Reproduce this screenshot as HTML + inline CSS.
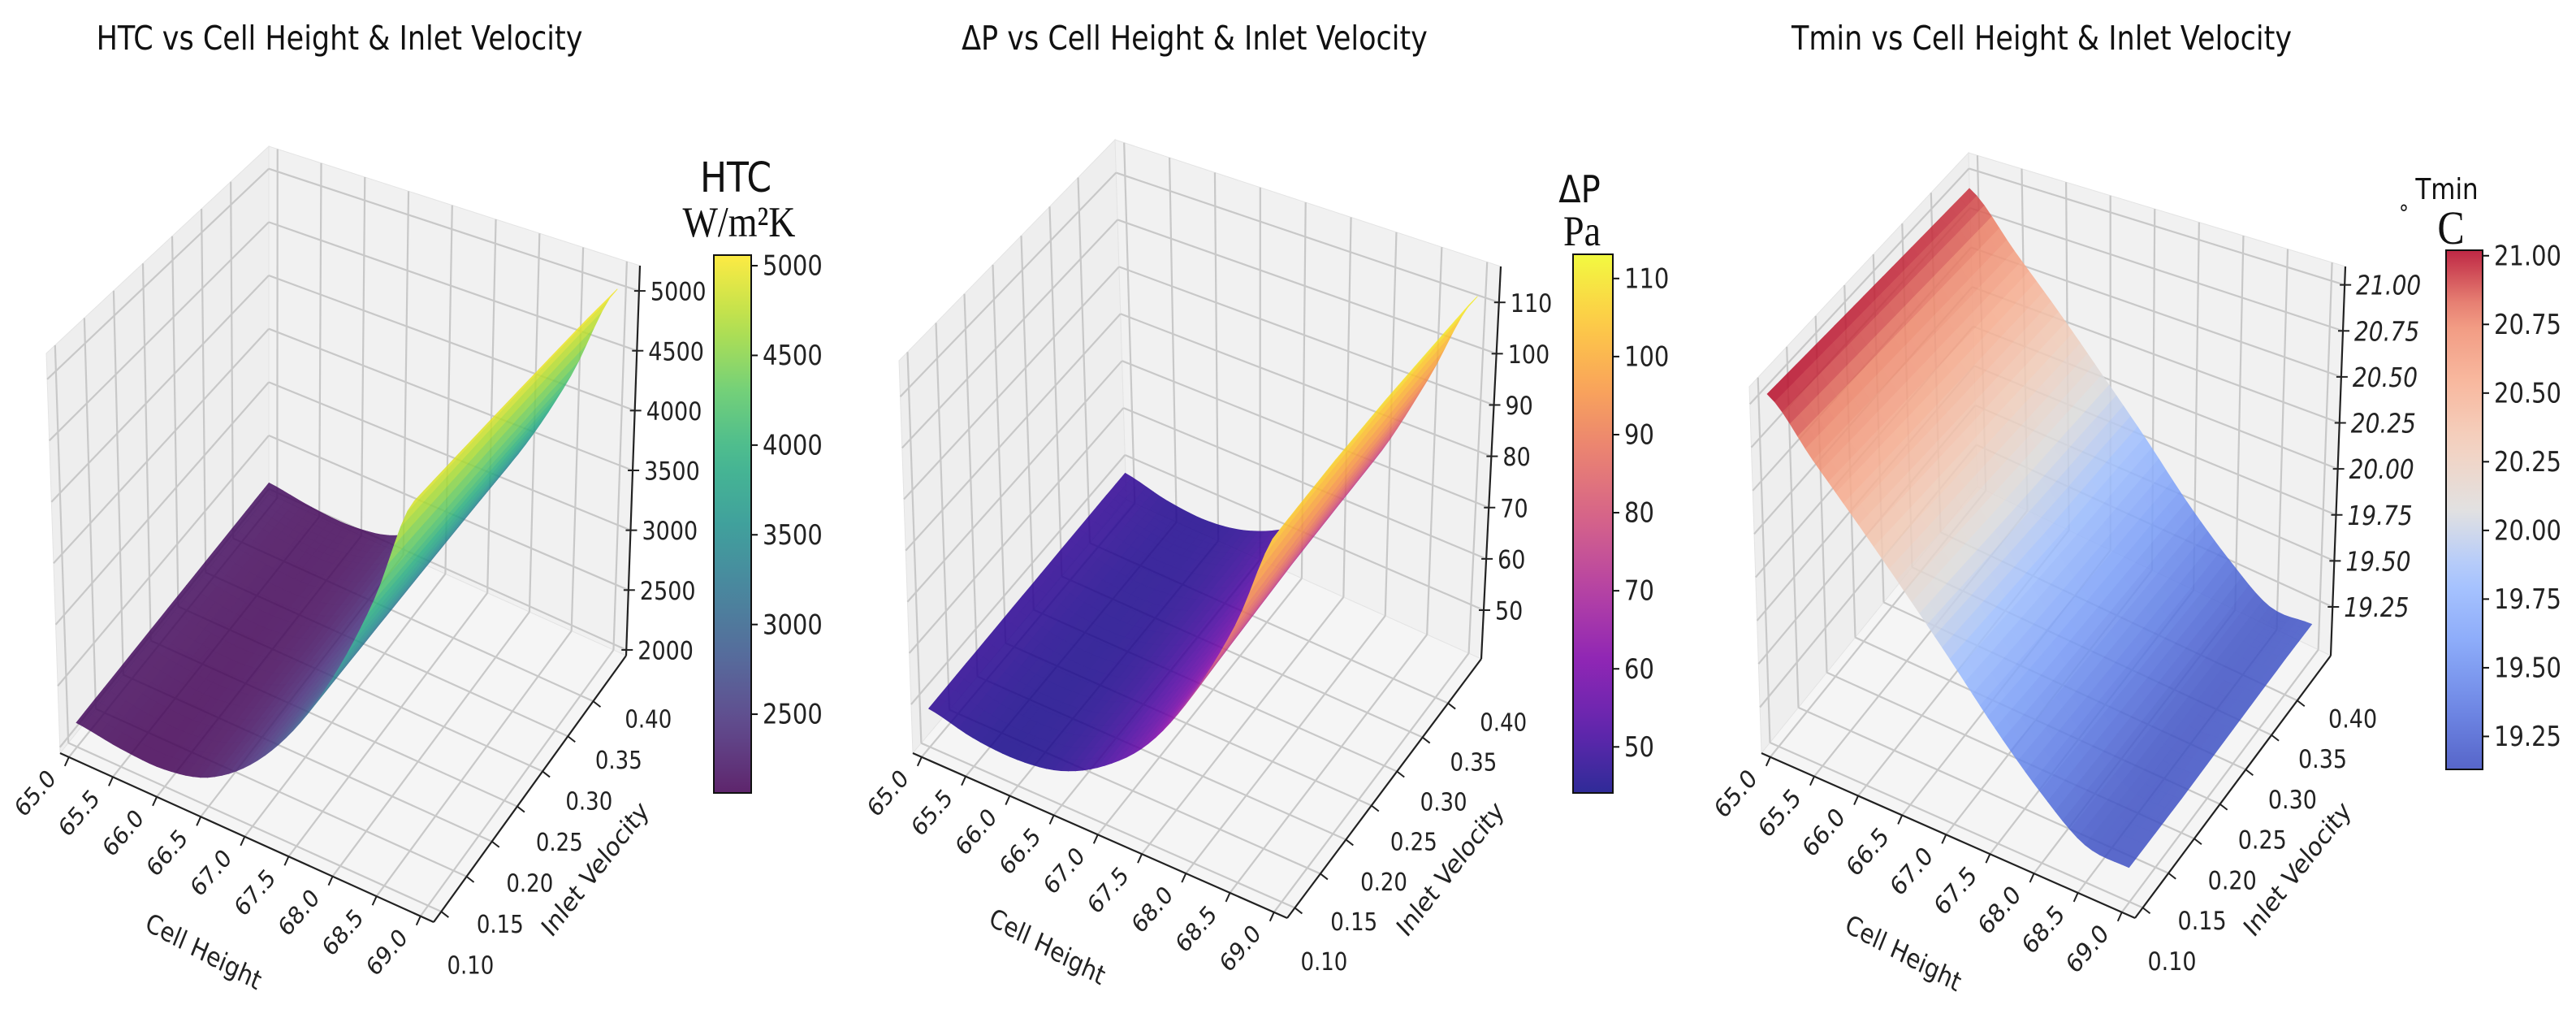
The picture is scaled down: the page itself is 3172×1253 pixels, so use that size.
<!DOCTYPE html>
<html><head><meta charset="utf-8">
<style>
html,body{margin:0;padding:0;background:#fff;}
svg{display:block;font-family:"DejaVu Sans","Liberation Sans",sans-serif;}
</style></head>
<body>
<svg id="chart" width="3172" height="1253" viewBox="0 0 3172 1253" xmlns="http://www.w3.org/2000/svg">
<rect x="0" y="0" width="3172" height="1253" fill="#fff"/>
</svg>
<script>
// ---- data ----
const cellHeights = [65.0, 65.5, 66.0, 66.5, 67.0, 67.5, 68.0, 68.5, 69.0];
const velocities = [0.10, 0.20, 0.30, 0.40, 0.45];
// rows = velocities, columns = cellHeights
const htcGrid = [
  [2150, 2100, 2090, 2180, 2430, 2830, 3380, 4080, 4920],
  [2160, 2110, 2100, 2190, 2450, 2850, 3410, 4120, 4960],
  [2170, 2120, 2110, 2200, 2460, 2870, 3440, 4160, 5000],
  [2180, 2130, 2120, 2210, 2480, 2890, 3470, 4190, 5040],
  [2185, 2135, 2125, 2215, 2485, 2900, 3480, 4200, 5050]
];
const dpGrid = [
  [48.0, 46.0, 45.5, 47.0, 51.5, 59.0, 71.0, 87.0, 107.0],
  [48.3, 46.3, 45.8, 47.4, 52.0, 60.0, 72.5, 89.0, 109.0],
  [48.6, 46.6, 46.1, 47.8, 52.5, 61.0, 74.0, 91.0, 110.5],
  [48.9, 46.9, 46.4, 48.2, 53.0, 62.0, 75.0, 92.5, 111.5],
  [49.0, 47.0, 46.5, 48.4, 53.2, 62.4, 75.5, 93.0, 112.0]
];
const tminGrid = [
  [21.02, 20.72, 20.44, 20.16, 19.88, 19.60, 19.36, 19.18, 19.16],
  [21.00, 20.70, 20.42, 20.14, 19.86, 19.58, 19.35, 19.17, 19.16],
  [20.98, 20.68, 20.40, 20.12, 19.84, 19.57, 19.34, 19.17, 19.17],
  [20.96, 20.66, 20.38, 20.10, 19.83, 19.56, 19.33, 19.17, 19.18],
  [20.95, 20.65, 20.37, 20.09, 19.82, 19.55, 19.33, 19.17, 19.18]
];
const xTicks = [65.0, 65.5, 66.0, 66.5, 67.0, 67.5, 68.0, 68.5, 69.0];
const xTickLabels = ["65.0","65.5","66.0","66.5","67.0","67.5","68.0","68.5","69.0"];
const yTicks = [0.10, 0.15, 0.20, 0.25, 0.30, 0.35, 0.40];
const yTickLabels = ["0.10","0.15","0.20","0.25","0.30","0.35","0.40"];
const htcTicks = [2000, 2500, 3000, 3500, 4000, 4500, 5000];
const dpTicks = [50, 60, 70, 80, 90, 100, 110];
const tminTicks = [19.25, 19.50, 19.75, 20.00, 20.25, 20.50, 20.75, 21.00];
const tminTickLabels = ["19.25","19.50","19.75","20.00","20.25","20.50","20.75","21.00"];
const htcCbarTicks = [2500, 3000, 3500, 4000, 4500, 5000];
const dpCbarTicks = [50, 60, 70, 80, 90, 100, 110];
const tminCbarTicks = [19.25, 19.50, 19.75, 20.00, 20.25, 20.50, 20.75, 21.00];

// ---- colormaps ----
const viridis = ["#440154","#472d7b","#3b528b","#2c728e","#21918c","#28ae80","#5ec962","#addc30","#fde725"];
const plasma = ["#0d0887","#4c02a1","#7e03a8","#a92395","#cc4778","#e56b5d","#f89540","#fdc328","#f0f921"];
const coolwarm = ["#3b4cc0","#5977e3","#7b9ff9","#9ebeff","#dddcdc","#f2cbb7","#f7ac8e","#ee8468","#b40426"];
function hex(h){return [parseInt(h.substr(1,2),16),parseInt(h.substr(3,2),16),parseInt(h.substr(5,2),16)];}
function cmap(stops,t){
  t=Math.max(0,Math.min(1,t));
  const n=stops.length-1, f=t*n, i=Math.min(n-1,Math.floor(f)), r=f-i;
  const a=hex(stops[i]), b=hex(stops[i+1]);
  return "rgb("+a.map((c,k)=>Math.round(c+(b[k]-c)*r)).join(",")+")";
}

const NS="http://www.w3.org/2000/svg";
const svg=document.getElementById("chart");
function el(tag,attrs,parent){const e=document.createElementNS(NS,tag);for(const k in attrs)e.setAttribute(k,attrs[k]);(parent||svg).appendChild(e);return e;}
const SY=1.16;
function txt(parent,x,y,str,opts){
  const o=opts||{};
  const e=el("text",{x:0,y:0,"text-anchor":o.anchor||"start","dominant-baseline":o.baseline||"auto","font-size":o.size||26,fill:o.fill||"#222",
    transform:"translate("+x.toFixed(1)+" "+y.toFixed(1)+") scale(1 "+SY+") rotate("+(o.rot||0)+")"},parent);
  if(o.family)e.setAttribute("font-family",o.family);
  if(o.italic)e.setAttribute("font-style","oblique");
  e.textContent=str;
  return e;
}

// box corners: b = bottom [left(x0,y0), back(x0,y1), right(x1,y1), front(x1,y0)], t = top same order
const panels=[
  {key:"htc",title:"HTC vs Cell Height & Inlet Velocity",titleX:418,grid:htcGrid,cmap:viridis,
   b:[[74,927],[331,608],[771,807],[534,1135]], t:[[57,435],[331,180],[788,327],[514,583]],
   xd:[64.9,69.15],yd:[0.085,0.465],zd:[1952,5211],
   zTicks:htcTicks,zLabels:htcTicks.map(String),italic:false,fs:26,
   cb:{x:879,y:314,w:46,h:662,min:2061,max:5059,ticks:htcCbarTicks,labels:htcCbarTicks.map(String)},
   cellLab:[250,1173],velLab:[734,1071]},
  {key:"dp",title:"ΔP vs Cell Height & Inlet Velocity",titleX:1471,grid:dpGrid,cmap:plasma,
   b:[[1124,927],[1387,615],[1824,811],[1585,1130]], t:[[1107,444],[1373,172],[1848,328],[1582,599]],
   xd:[64.9,69.15],yd:[0.085,0.465],zd:[40.5,117.0],
   zTicks:dpTicks,zLabels:dpTicks.map(String),italic:false,fs:26,
   cb:{x:1937,y:313,w:49,h:663,min:44.1,max:113.1,ticks:dpCbarTicks,labels:dpCbarTicks.map(String)},
   cellLab:[1289,1167],velLab:[1787,1071]},
  {key:"tmin",title:"Tmin vs Cell Height & Inlet Velocity",titleX:2514,grid:tminGrid,cmap:coolwarm,
   b:[[2169,927],[2435,599],[2870,807],[2629,1130]], t:[[2154,476],[2424,188],[2888,328],[2618,616]],
   xd:[64.9,69.15],yd:[0.085,0.465],zd:[18.985,21.10],
   zTicks:tminTicks,zLabels:tminTickLabels,italic:true,fs:27,
   cb:{x:3012,y:308,w:45,h:639,min:19.13,max:21.02,ticks:tminCbarTicks,labels:tminCbarTicks.map(v=>v.toFixed(2))},
   cellLab:[2343,1175],velLab:[2830,1071]}
];

function bil(C,u,v){
  return [0,1].map(k=>C[0][k]*(1-u)*(1-v)+C[1][k]*(1-u)*v+C[2][k]*u*v+C[3][k]*u*(1-v));
}

panels.forEach(P=>{
  const g=el("g",{});
  
  
  const uvw=(x,y,z)=>[(x-P.xd[0])/(P.xd[1]-P.xd[0]),(y-P.yd[0])/(P.yd[1]-P.yd[0]),(z-P.zd[0])/(P.zd[1]-P.zd[0])];
  const proj=(x,y,z)=>{const [u,v,w]=uvw(x,y,z);const a=bil(P.b,u,v),b=bil(P.t,u,v);return [a[0]+(b[0]-a[0])*w,a[1]+(b[1]-a[1])*w];};
  const pts=a=>a.map(p=>p[0].toFixed(1)+","+p[1].toFixed(1)).join(" ");
  const [x0,x1]=P.xd,[y0,y1]=P.yd,[z0,z1]=P.zd;

  const t=txt(g,P.titleX,61,P.title,{anchor:"middle",size:35,fill:"#111"});
  
  

  const lp=el("polygon",{points:pts([proj(x0,y0,z0),proj(x0,y1,z0),proj(x0,y1,z1),proj(x0,y0,z1)]),fill:"#eeeeee",stroke:"#e4e4e4"},g);
  
  
  const bp=el("polygon",{points:pts([proj(x0,y1,z0),proj(x1,y1,z0),proj(x1,y1,z1),proj(x0,y1,z1)]),fill:"#f1f1f1",stroke:"#e4e4e4"},g);
  
  
  const fp=el("polygon",{points:pts([proj(x0,y0,z0),proj(x1,y0,z0),proj(x1,y1,z0),proj(x0,y1,z0)]),fill:"#f5f5f5",stroke:"#e4e4e4"},g);
  
  

  const gl=(a,b)=>{const l=el("line",{x1:a[0],y1:a[1],x2:b[0],y2:b[1],stroke:"#c8c8c8","stroke-width":2.2},g);
    
    };
  xTicks.forEach(x=>{gl(proj(x,y0,z0),proj(x,y1,z0));gl(proj(x,y1,z0),proj(x,y1,z1));});
  yTicks.forEach(y=>{gl(proj(x0,y,z0),proj(x1,y,z0));gl(proj(x0,y,z0),proj(x0,y,z1));});
  P.zTicks.forEach(z=>{gl(proj(x0,y0,z),proj(x0,y1,z));gl(proj(x0,y1,z),proj(x1,y1,z));});

  const ax=(a,b,name)=>{const l=el("line",{x1:a[0],y1:a[1],x2:b[0],y2:b[1],stroke:"#222","stroke-width":2.2},g);
    
    };
  ax(proj(x0,y0,z0),proj(x1,y0,z0),P.key+'-x-axis');
  ax(proj(x1,y0,z0),proj(x1,y1,z0),P.key+'-y-axis');
  ax(proj(x1,y1,z0),proj(x1,y1,z1),P.key+'-z-axis');

  xTicks.forEach((x,i)=>{
    const p=proj(x,y0,z0);
    const tk=el("line",{x1:p[0],y1:p[1],x2:p[0]-5,y2:p[1]+11,stroke:"#222","stroke-width":2},g);
    
    
    const tx=txt(g,p[0]-20,p[1]+22,xTickLabels[i],{anchor:"end",baseline:"middle",size:P.fs,rot:-45});
    
    
  });
  const yFirst=proj(x1,yTicks[0],z0);
  yTicks.forEach((y,i)=>{
    const p=proj(x1,y,z0);
    const tk=el("line",{x1:p[0],y1:p[1],x2:p[0]+9,y2:p[1]+7,stroke:"#222","stroke-width":2},g);
    
    
    const lx=p[0]+36+(p[0]-yFirst[0])*0.17, ly=p[1]+68+(p[1]-yFirst[1])*0.17;
    const tx=txt(g,lx,ly,yTickLabels[i],{anchor:"middle",baseline:"middle",size:P.fs});
    
    
  });
  P.zTicks.forEach((z,i)=>{
    const p=proj(x1,y1,z);
    const tk=el("line",{x1:p[0]-6,y1:p[1],x2:p[0]+8,y2:p[1],stroke:"#222","stroke-width":2},g);
    
    
    const tx=txt(g,p[0]+14,p[1]+3,P.zLabels[i],{baseline:"middle",size:P.fs+1,italic:P.italic});
    
    
  });
  const cl=txt(g,P.cellLab[0],P.cellLab[1],"Cell Height",{anchor:"middle",baseline:"middle",size:28,rot:25});
  
  
  const vl=txt(g,P.velLab[0],P.velLab[1],"Inlet Velocity",{anchor:"middle",baseline:"middle",size:28,rot:-48});
  
  

  // surface (Catmull-Rom along cell height, linear along velocity)
  const sg=el("g",{opacity:0.85},g);
  
  
  const G=P.grid, nx=cellHeights.length;
  const cr=(row,i,a)=>{const p0=row[Math.max(0,i-1)],p1=row[i],p2=row[i+1],p3=row[Math.min(nx-1,i+2)];
    const a2=a*a,a3=a2*a;
    return 0.5*((2*p1)+(-p0+p2)*a+(2*p0-5*p1+4*p2-p3)*a2+(-p0+3*p1-3*p2+p3)*a3);};
  const val=(i,j,a,b)=>cr(G[j],i,a)*(1-b)+cr(G[j+1],i,a)*b;
  const quads=[];
  const S=6;
  for(let j=0;j<velocities.length-1;j++)for(let i=0;i<nx-1;i++){
    for(let sb=0;sb<S;sb++)for(let sa=0;sa<S;sa++){
      const c=[[sa/S,sb/S],[(sa+1)/S,sb/S],[(sa+1)/S,(sb+1)/S],[sa/S,(sb+1)/S]];
      const P3=c.map(([a,b])=>{
        const x=cellHeights[i]+(cellHeights[i+1]-cellHeights[i])*a;
        const y=velocities[j]+(velocities[j+1]-velocities[j])*b;
        return [x,y,val(i,j,a,b)];});
      const zm=P3.reduce((s,p)=>s+p[2],0)/4;
      const xm=P3.reduce((s,p)=>s+p[0],0)/4, ym=P3.reduce((s,p)=>s+p[1],0)/4;
      const [u,v,w]=uvw(xm,ym,zm);
      quads.push({p:P3.map(q=>proj(q[0],q[1],q[2])),z:zm,d:u-v+0.3*w});
    }
  }
  quads.sort((a,b)=>a.d-b.d);
  const cb=P.cb;
  quads.forEach(q=>{
    const col=cmap(P.cmap,(q.z-cb.min)/(cb.max-cb.min));
    const pg=el("polygon",{points:pts(q.p),fill:col,stroke:col,"stroke-width":0.8},sg);
    
    
  });

  const gid="grad-"+P.key;
  const defs=el("defs",{},g);
  const lg=el("linearGradient",{id:gid,x1:0,y1:1,x2:0,y2:0},defs);
  for(let k=0;k<=20;k++)el("stop",{offset:(k/20),"stop-color":cmap(P.cmap,k/20)},lg);
  const crr=el("rect",{x:cb.x,y:cb.y,width:cb.w,height:cb.h,fill:"url(#"+gid+")","fill-opacity":0.86,stroke:"#111","stroke-width":2},g);
  
  
  cb.ticks.forEach((v,i)=>{
    const y=cb.y+cb.h*(1-(v-cb.min)/(cb.max-cb.min));
    const tk=el("line",{x1:cb.x+cb.w,y1:y,x2:cb.x+cb.w+8,y2:y,stroke:"#111","stroke-width":2},g);
    
    
    const tx=txt(g,cb.x+cb.w+14,y+2,cb.labels[i],{baseline:"middle",size:29});
    
    
  });
});

function title(x,y,str,size,fam,name){
  const t=txt(svg,x,y,str,{anchor:"middle",size:size,family:fam,fill:"#111"});
  
  
}
const SANS='"DejaVu Sans","Liberation Sans",sans-serif', SERIF='"Liberation Serif",serif';
title(906,236,"HTC",44,SANS,'htc-colorbar-title');
title(910,291,"W/m²K",46,SERIF,'htc-colorbar-unit');
title(1945,249,"ΔP",40,SANS,'dp-colorbar-title');
title(1948,302,"Pa",46,SERIF,'dp-colorbar-unit');
title(3013,245,"Tmin",31,SANS,'tmin-colorbar-title');
title(2960,272,"°",24,SANS,'tmin-colorbar-degree');
title(3018,300,"C",50,SERIF,'tmin-colorbar-unit');
</script>
</body></html>
